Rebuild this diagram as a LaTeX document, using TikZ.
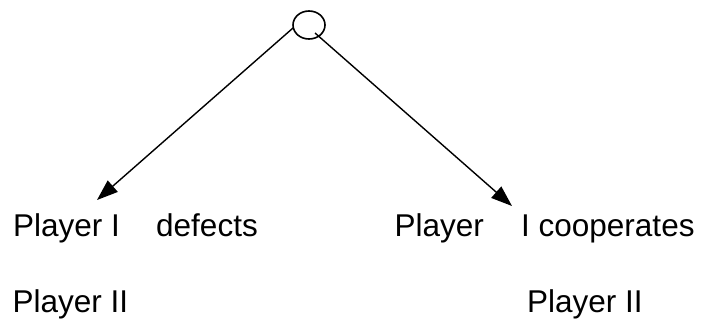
\documentclass[tikz,border=0pt]{standalone}
\usepackage{fontspec}
\setmainfont{Liberation Sans}
\usetikzlibrary{arrows.meta,shapes.geometric}
\begin{document}
\begin{tikzpicture}[x=1pt,y=-1pt,
  lbl/.style={anchor=base west,inner sep=0pt,font=\fontsize{31.5}{36}\selectfont},
  rootnode/.style={draw,ellipse,line width=1.6pt,minimum width=32pt,minimum height=28pt,inner sep=0pt},
  conn/.style={line width=1.4pt,-{Triangle[length=21pt,width=15pt]}}]
\useasboundingbox[fill=white] (0,0) rectangle (701,322);
\node[rootnode] (root) at (309,25) {};
\coordinate (ls) at (293,28);
\coordinate (rs) at (315,33);
\coordinate (lt) at (97,200);
\coordinate (rt) at (512,206);
\draw[conn] (ls) -- (lt);
\draw[conn] (rs) -- (rt);
\node[lbl] (p1) at (13,236) {Player I};
\node[lbl] (d1) at (156,236) {defects};
\node[lbl] (p2) at (394.5,236) {Player};
\node[lbl] (c2) at (521,236) {I cooperates};
\node[lbl] (q1) at (12.5,312) {Player II};
\node[lbl] (q2) at (527,312) {Player II};
\end{tikzpicture}
\end{document}
